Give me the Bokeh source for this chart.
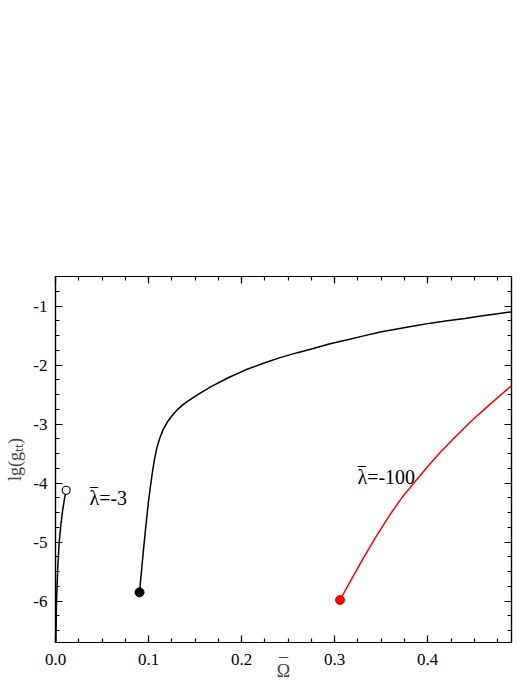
from bokeh.plotting import figure
from bokeh.models import FixedTicker, LinearAxis, Range1d, Label
from bokeh.embed import file_html
from bokeh.resources import INLINE

# ---- data ----
omega_m3 = [0.0004, 0.0011, 0.0025, 0.0040, 0.0058, 0.0078, 0.0098, 0.0115]
lg_m3 = [-6.7, -6.0, -5.4, -5.0, -4.7, -4.45, -4.25, -4.12]

omega_b = [0.0903, 0.0935, 0.0968, 0.1000, 0.1025, 0.1045, 0.1065, 0.1090, 0.1120,
           0.1155, 0.1200, 0.1255, 0.1308, 0.1370, 0.1434, 0.150, 0.156, 0.1667,
           0.185, 0.206, 0.225, 0.242, 0.260, 0.277, 0.295, 0.314, 0.330, 0.349,
           0.367, 0.385, 0.403, 0.421, 0.440, 0.457, 0.475, 0.490]
lg_b = [-5.85, -5.30, -4.77, -4.30, -4.00, -3.78, -3.58, -3.40, -3.24,
        -3.10, -2.97, -2.85, -2.76, -2.67, -2.60, -2.53, -2.47, -2.37,
        -2.22, -2.07, -1.96, -1.87, -1.79, -1.72, -1.64, -1.57, -1.51, -1.44,
        -1.39, -1.34, -1.29, -1.25, -1.21, -1.17, -1.13, -1.10]

omega_m100 = [0.3057, 0.318, 0.3297, 0.344, 0.3584, 0.372, 0.386, 0.400, 0.414,
              0.430, 0.446, 0.468, 0.490]
lg_m100 = [-5.98, -5.63, -5.30, -4.92, -4.56, -4.25, -3.98, -3.72, -3.47,
           -3.21, -2.96, -2.65, -2.35]

x_ticks = [0.0, 0.1, 0.2, 0.3, 0.4]
x_tick_labels = ["0.0", "0.1", "0.2", "0.3", "0.4"]
y_ticks = [-6, -5, -4, -3, -2, -1]
y_tick_labels = ["-6", "-5", "-4", "-3", "-2", "-1"]
x_minor = [i * 0.025 for i in range(0, 20)]
y_minor = [-6.5 + i * 0.25 for i in range(0, 25)]

FONT = "'Liberation Serif', 'Times New Roman', serif"

p = figure(width=521, height=683, output_backend="svg", toolbar_location=None,
           x_range=Range1d(0.0, 0.49), y_range=Range1d(-6.7, -0.5),
           min_border_left=55, min_border_right=10, min_border_top=276,
           min_border_bottom=40)
p.xgrid.visible = False
p.ygrid.visible = False
p.outline_line_color = "black"
p.outline_line_width = 1.2
p.background_fill_color = "white"
p.border_fill_color = "white"

def style_axis(ax, ticks, minor, labels, show_labels, standoff):
    ax.ticker = FixedTicker(ticks=ticks, minor_ticks=minor)
    ax.axis_line_color = "black"
    ax.axis_line_width = 1.2
    ax.major_tick_in = 7
    ax.major_tick_out = 0
    ax.minor_tick_in = 4
    ax.minor_tick_out = 0
    ax.major_tick_line_width = 1.2
    ax.minor_tick_line_width = 1.2
    ax.major_label_text_font = FONT
    ax.major_label_text_font_size = "17px"
    ax.major_label_text_color = "black"
    if show_labels:
        ax.major_label_overrides = {t: l for t, l in zip(ticks, labels)}
        ax.major_label_standoff = standoff
    else:
        ax.major_label_overrides = {t: "" for t in ticks}
        ax.major_label_standoff = 0

style_axis(p.xaxis[0], x_ticks, x_minor, x_tick_labels, True, 11)
style_axis(p.yaxis[0], y_ticks, y_minor, y_tick_labels, True, 8)

# y axis title lg(g_tt)
p.yaxis[0].axis_label = "lg(g\u209c\u209c)"
p.yaxis[0].axis_label_text_font = FONT
p.yaxis[0].axis_label_text_font_size = "18px"
p.yaxis[0].axis_label_text_font_style = "normal"
p.yaxis[0].axis_label_standoff = 5

# x axis title: Omega with an overbar (bar drawn as a first line)
p.xaxis[0].axis_label = "_\n\u03a9"
p.xaxis[0].axis_label_text_font = FONT
p.xaxis[0].axis_label_text_font_size = "18px"
p.xaxis[0].axis_label_text_font_style = "normal"
p.xaxis[0].axis_label_text_line_height = 1.05
p.xaxis[0].axis_label_standoff = -28

top = LinearAxis()
style_axis(top, x_ticks, x_minor, x_tick_labels, False, 0)
p.add_layout(top, "above")
right = LinearAxis()
style_axis(right, y_ticks, y_minor, y_tick_labels, False, 0)
p.add_layout(right, "right")

# curves
p.line(omega_m3, lg_m3, line_color="black", line_width=1.5)
p.scatter([omega_m3[-1]], [lg_m3[-1]], size=8, marker="circle",
          fill_color="white", line_color="black", line_width=1.1)

p.line(omega_b, lg_b, line_color="black", line_width=1.5)
p.scatter([omega_b[0]], [lg_b[0]], size=9, marker="circle",
          fill_color="black", line_color="black")

p.line(omega_m100, lg_m100, line_color="#ff0000", line_width=1.5)
p.scatter([omega_m100[0]], [lg_m100[0]], size=9, marker="circle",
          fill_color="#ff0000", line_color="#ff0000")

# annotations
def lab(x, y, text, size):
    p.add_layout(Label(x=x, y=y, text=text, text_font=FONT, text_font_size=size,
                       text_color="black", text_align="left",
                       text_baseline="alphabetic"))

lab(0.0365, -4.251, "\u03bb=-3", "20px")
lab(0.0371, -3.953, "_", "16px")          # bar over lambda
lab(0.3245, -3.896, "\u03bb=-100", "20px")
lab(0.3251, -3.598, "_", "16px")          # bar over lambda

open("out.html", "w").write(file_html(p, INLINE))
